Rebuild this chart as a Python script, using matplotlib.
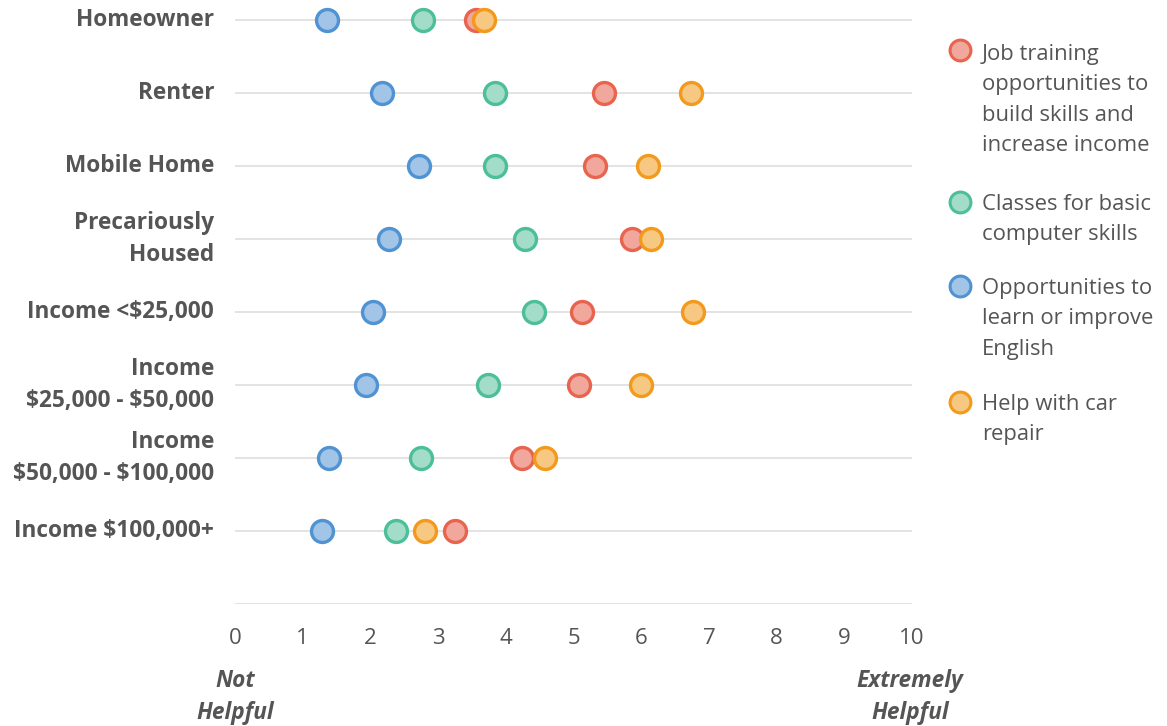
import matplotlib
matplotlib.use("Agg")
import matplotlib.pyplot as plt
from matplotlib.lines import Line2D

plt.rcParams['font.family'] = ['Open Sans', 'DejaVu Sans']
plt.rcParams['text.parse_math'] = False

categories = ["Homeowner", "Renter", "Mobile Home", "Precariously\nHoused",
              "Income <$25,000", "Income\n$25,000 - $50,000",
              "Income\n$50,000 - $100,000", "Income $100,000+"]

series_names = ["Job training\nopportunities to\nbuild skills and\nincrease income",
                "Classes for basic\ncomputer skills",
                "Opportunities to\nlearn or improve\nEnglish",
                "Help with car\nrepair"]

job_training = [3.56, 5.45, 5.32, 5.86, 5.13, 5.08, 4.24, 3.25]
computer_classes = [2.78, 3.84, 3.84, 4.28, 4.42, 3.74, 2.75, 2.38]
english = [1.36, 2.17, 2.72, 2.27, 2.04, 1.93, 1.39, 1.29]
car_repair = [3.68, 6.74, 6.10, 6.14, 6.77, 6.00, 4.58, 2.81]

series_values = [job_training, computer_classes, english, car_repair]
edge_colors = ["#E8644F", "#4DBF98", "#4F93D2", "#F39A1C"]
fill_colors = ["#F2A79C", "#A3DCC9", "#A2C4E6", "#F7C882"]

x_ticks = list(range(0, 11))

W, H = 1167, 726
fig = plt.figure(figsize=(W / 100, H / 100), dpi=100)
ax = fig.add_axes([235 / W, 1 - 604 / H, (912 - 235) / W, 604 / H])

n = len(categories)
ypos = list(range(n))

for yy in range(n + 1):
    ax.axhline(yy, color="#e3e3e3", lw=1.4, zorder=1)

for vals, ec, fc in zip(series_values, edge_colors, fill_colors):
    ax.scatter(vals, ypos, s=250, facecolor=fc, edgecolor=ec, linewidths=2.4, zorder=3)

ax.set_xlim(0, 10)
ax.set_ylim(n, -0.28)
ax.set_xticks(x_ticks)
ax.set_xticklabels([str(t) for t in x_ticks], fontsize=16, color="#555555")
ax.set_yticks(ypos)
ax.set_yticklabels(categories, fontsize=16.3, fontweight="bold", color="#555555",
                   linespacing=1.42, va="center")
ax.tick_params(axis="x", length=0, pad=17)
ax.tick_params(axis="y", length=0, pad=15)
for sp in ax.spines.values():
    sp.set_visible(False)

# axis end annotations
fig.text(235 / W, 1 - 697 / H, "Not\nHelpful", ha="center", va="center",
         fontsize=16.3, fontweight="bold", fontstyle="italic", color="#555555",
         linespacing=1.45)
fig.text(910 / W, 1 - 697 / H, "Extremely\nHelpful", ha="center", va="center",
         fontsize=16.3, fontweight="bold", fontstyle="italic", color="#555555",
         linespacing=1.45)

# legend (manual)
legend_y = [50, 202, 286, 402]
text_offsets = [6, 8, 8, 8]
for name, ec, fc, ly, off in zip(series_names, edge_colors, fill_colors, legend_y, text_offsets):
    fig.add_artist(Line2D([960 / W], [1 - ly / H], marker="o", markersize=15,
                          markerfacecolor=fc, markeredgecolor=ec,
                          markeredgewidth=2.2, linestyle="none",
                          transform=fig.transFigure))
    fig.text(982 / W, 1 - (ly - off) / H, name, ha="left", va="top",
             fontsize=15.8, color="#555555", linespacing=1.58)

fig.savefig("out.png", dpi=100)
